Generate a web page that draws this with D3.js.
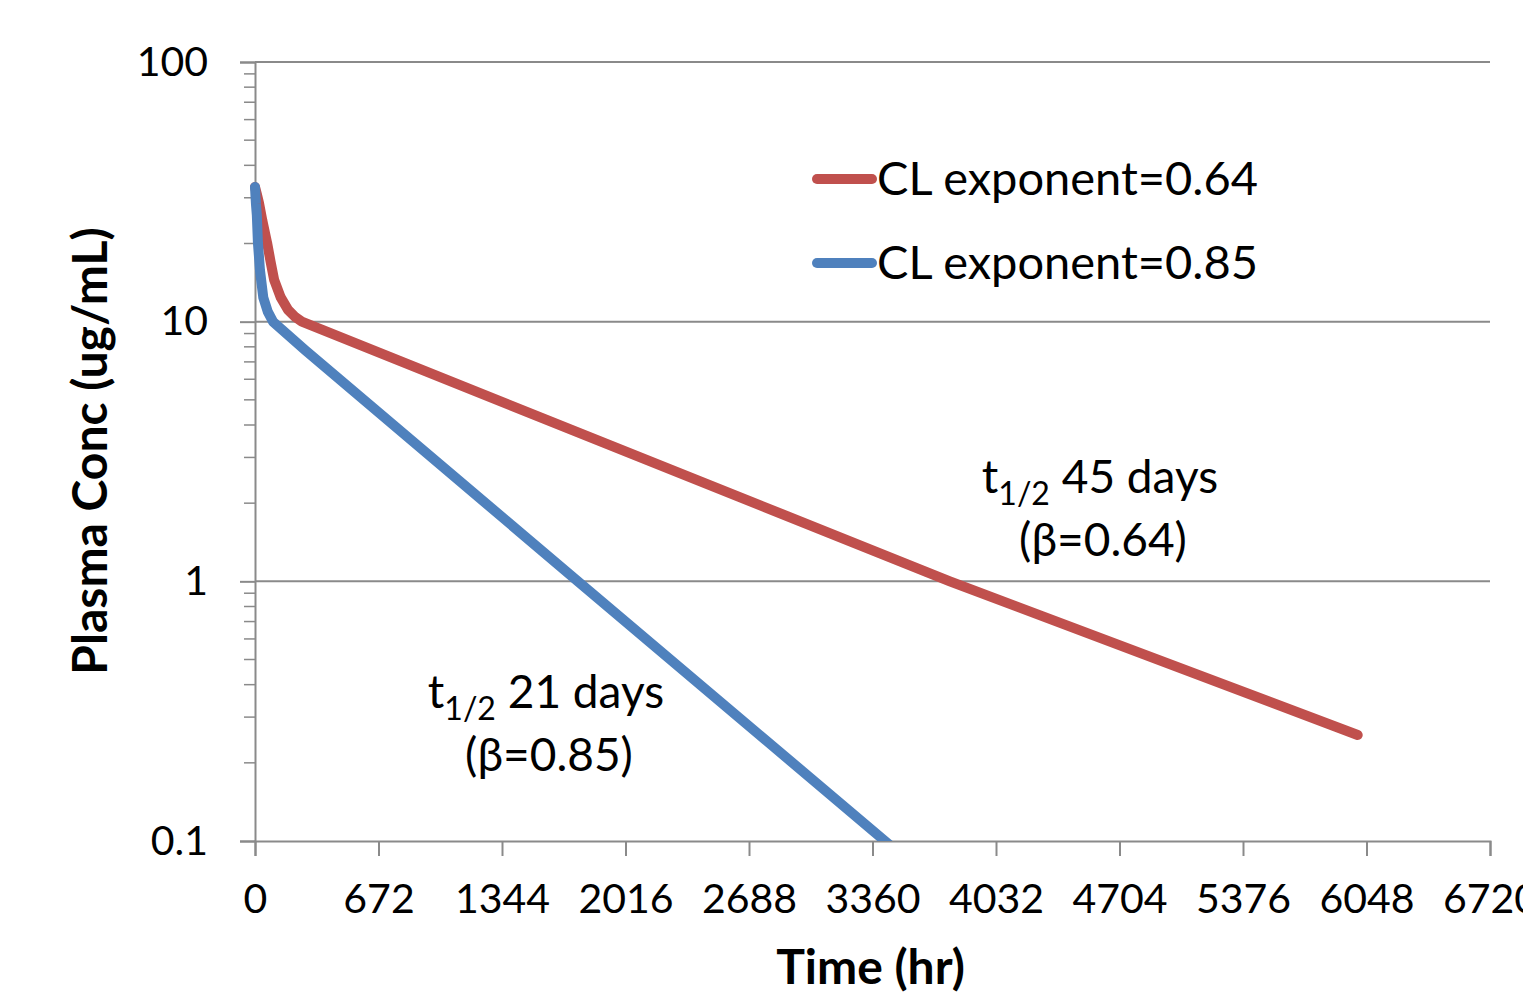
<!DOCTYPE html>
<html>
<head>
<meta charset="utf-8">
<script src="https://cdn.jsdelivr.net/npm/d3@7"></script>
<style>
  body { margin: 0; background: #fff; }
  text { font-family: Lato, "Open Sans", sans-serif; fill: #000; }
</style>
</head>
<body>
<div class="pk-chart"></div>
<script>
// values
const timeRed = [0, 10, 22, 40, 66, 85, 104, 140, 180, 220, 255, 3781, 6000];
const concRed = [33, 31, 28.6, 24.5, 20.1, 17, 14.5, 12.4, 11.1, 10.4, 10, 1, 0.256];
const timeBlue = [0, 5, 10, 16, 27, 45, 70, 98, 272, 1757, 3428, 3560];
const concBlue = [33, 28.5, 25.7, 20.1, 15.8, 12.4, 10.9, 10, 7.78, 1, 0.1, 0.083];
const xTicks = [0, 672, 1344, 2016, 2688, 3360, 4032, 4704, 5376, 6048, 6720];
const yTicks = [0.1, 1, 10, 100];
const seriesNames = ["CL exponent=0.64", "CL exponent=0.85"];
const seriesColors = ["#C0504D", "#4F81BD"];

const draw = () => {
    const margin = { top: 62, right: 33, bottom: 151, left: 255 };
    const W = 1523, H = 992;
    const width = W - margin.left - margin.right;
    const height = H - margin.top - margin.bottom;

    const svg = d3.select(".pk-chart")
        .append("svg")
        .attr("width", W)
        .attr("height", H)
        .append("g")
        .attr("transform", "translate(" + margin.left + "," + margin.top + ")");

    const x = d3.scaleLinear().domain([0, 6720]).range([0, width]);
    const y = d3.scaleLog().domain([0.1, 100]).range([height, 0]);

    const grey = "#8a8a8a";

    // horizontal gridlines
    svg.selectAll(".grid")
        .data(yTicks.slice(1))
        .enter()
        .append("line")
        .attr("x1", 0).attr("x2", width)
        .attr("y1", d => y(d)).attr("y2", d => y(d))
        .attr("stroke", grey).attr("stroke-width", 2);

    // minor y ticks (2..9 in each decade)
    const minor = [];
    [0.1, 1, 10].forEach(dec => { for (let k = 2; k <= 9; k++) minor.push(dec * k); });
    svg.selectAll(".minor")
        .data(minor)
        .enter()
        .append("line")
        .attr("x1", -11).attr("x2", 0)
        .attr("y1", d => y(d)).attr("y2", d => y(d))
        .attr("stroke", grey).attr("stroke-width", 1.5);

    // y axis
    const yAxis = svg.append("g")
        .call(d3.axisLeft(y).tickValues(yTicks).tickSize(15).tickPadding(32)
            .tickFormat(d => d === 0.1 ? "0.1" : d3.format("d")(d)));
    yAxis.select(".domain").attr("stroke", grey).attr("stroke-width", 2);
    yAxis.selectAll(".tick line").attr("stroke", grey).attr("stroke-width", 2);
    yAxis.selectAll("text")
        .style("font-size", "41px")
        .style("font-family", "Lato, sans-serif")
        .attr("fill", "#000");

    // x axis
    const xAxis = svg.append("g")
        .attr("transform", "translate(0," + height + ")")
        .call(d3.axisBottom(x).tickValues(xTicks).tickSize(15).tickPadding(28).tickFormat(d3.format("d")));
    xAxis.select(".domain").attr("stroke", grey).attr("stroke-width", 2);
    xAxis.selectAll(".tick line").attr("stroke", grey).attr("stroke-width", 2);
    xAxis.selectAll("text")
        .style("font-size", "41px")
        .style("font-family", "Lato, sans-serif")
        .attr("fill", "#000");

    // clip at the plot floor
    svg.append("clipPath").attr("id", "plot-clip")
        .append("rect")
        .attr("x", -30).attr("y", -30)
        .attr("width", width + 60).attr("height", height + 30);

    const line = d3.line()
        .x(d => x(d.t))
        .y(d => y(d.c));

    const red = timeRed.map((t, i) => ({ t: t, c: concRed[i] }));
    const blue = timeBlue.map((t, i) => ({ t: t, c: concBlue[i] }));

    [red, blue].forEach((s, i) => {
        svg.append("path")
            .datum(s)
            .attr("clip-path", "url(#plot-clip)")
            .attr("fill", "none")
            .attr("stroke", seriesColors[i])
            .attr("stroke-width", 10)
            .attr("stroke-linecap", "round")
            .attr("stroke-linejoin", "round")
            .attr("d", line);
    });

    // legend
    const legend = svg.append("g").attr("transform", "translate(562,117)");
    seriesNames.forEach((name, i) => {
        legend.append("line")
            .attr("x1", 0).attr("x2", 55)
            .attr("y1", i * 84).attr("y2", i * 84)
            .attr("stroke", seriesColors[i])
            .attr("stroke-width", 10)
            .attr("stroke-linecap", "round");
        legend.append("text")
            .attr("x", 60).attr("y", i * 84)
            .attr("dy", "0.35em")
            .style("font-size", "47px")
            .text(name);
    });

    // half-life annotations
    const notes = [
        { cx: 845, y1: 431, days: "45 days", beta: "(\u03B2=0.64)" },
        { cx: 291, y1: 646, days: "21 days", beta: "(\u03B2=0.85)" }
    ];
    notes.forEach(n => {
        const t = svg.append("text")
            .attr("x", n.cx).attr("y", n.y1)
            .attr("text-anchor", "middle")
            .style("font-size", "46px");
        t.append("tspan").text("t");
        t.append("tspan").attr("dy", 12).style("font-size", "32px").text("1/2");
        t.append("tspan").attr("dy", -12).text(" " + n.days);
        svg.append("text")
            .attr("x", n.cx + 3).attr("y", n.y1 + 63)
            .attr("text-anchor", "middle")
            .style("font-size", "46px")
            .text(n.beta);
    });

    // axis titles
    svg.append("text")
        .attr("x", width / 2 - 2).attr("y", height + 143)
        .attr("text-anchor", "middle")
        .style("font-size", "48px")
        .style("font-weight", "bold")
        .text("Time (hr)");

    svg.append("text")
        .attr("transform", "translate(" + (-148) + "," + (451 - margin.top) + ") rotate(-90)")
        .attr("text-anchor", "middle")
        .style("font-size", "48px")
        .style("font-weight", "bold")
        .text("Plasma Conc (ug/mL)");
};

draw();
</script>
</body>
</html>
